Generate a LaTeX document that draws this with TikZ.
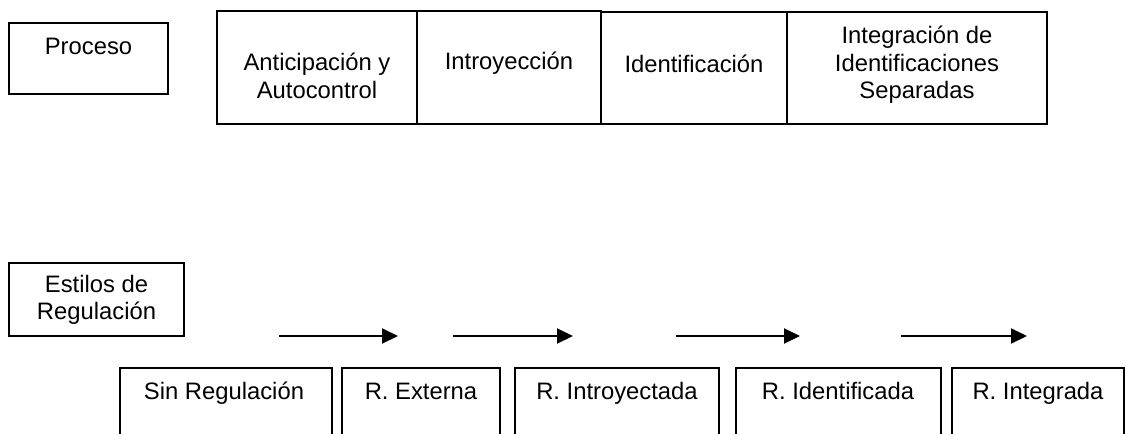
\documentclass[tikz,border=0pt]{standalone}
\usepackage{fontspec}
\setmainfont{Liberation Sans}
\usetikzlibrary{arrows.meta,fit}
\begin{document}
\begin{tikzpicture}[x=0.5pt,y=-0.5pt,
  topbox/.style={draw, line width=0.9pt, inner sep=0pt, fit={#1}},
  lowbox/.style={draw, line width=0.6pt, inner sep=0pt, fit={#1}},
  txt/.style={inner sep=0pt, align=center, font=\fontsize{11.9}{13.8}\selectfont},
  one/.style={txt, text height=8.8pt, text depth=2.6pt},
  arr/.style={line width=1pt, -{Triangle[length=8pt,width=7.5pt]}}]
\clip (0,0) rectangle (1126,434);
\fill[white] (0,0) rectangle (1126,434);
% Proceso
\node[topbox={(9,23) (168,94)}] (proc) {};
\node[one] (tproc) at (88.5,48) {Proceso};
% table
\node[topbox={(217,11) (417,124)}] (c1) {};
\node[topbox={(417,11) (601,124)}] (c2) {};
\node[topbox={(601,12) (787,124)}] (c3) {};
\node[topbox={(787,12) (1047,124)}] (c4) {};
\node[txt] (t1) at (317,76) {Anticipación y\\Autocontrol};
\node[one] (t2) at (509,63) {Introyección};
\node[one] (t3) at (694,66) {Identificación};
\node[txt] (t4) at (917,65) {Integración de\\Identificaciones\\Separadas};
% Estilos
\node[topbox={(9,263) (184,336)}] (est) {};
\node[txt] (test) at (96.5,300) {Estilos de\\Regulación};
% arrows
\coordinate (a1s) at (279,336); \coordinate (a1e) at (398,336);
\coordinate (a2s) at (453,336); \coordinate (a2e) at (573,336);
\coordinate (a3s) at (676,336); \coordinate (a3e) at (800,336);
\coordinate (a4s) at (901,336); \coordinate (a4e) at (1027,336);
\draw[arr] (a1s) -- (a1e);
\draw[arr] (a2s) -- (a2e);
\draw[arr] (a3s) -- (a3e);
\draw[arr] (a4s) -- (a4e);
% bottom boxes
\node[lowbox={(120,368) (332,470)}] (b1) {};
\node[lowbox={(342,368) (500,470)}] (b2) {};
\node[lowbox={(515,368) (719,470)}] (b3) {};
\node[lowbox={(736,368) (941,470)}] (b4) {};
\node[lowbox={(952,368) (1124,470)}] (b5) {};
\node[one] (tb1) at (224,393) {Sin Regulación};
\node[one] (tb2) at (421,393) {R. Externa};
\node[one] (tb3) at (617,393) {R. Introyectada};
\node[one] (tb4) at (838,393) {R. Identificada};
\node[one] (tb5) at (1038,393) {R. Integrada};
\end{tikzpicture}
\end{document}
